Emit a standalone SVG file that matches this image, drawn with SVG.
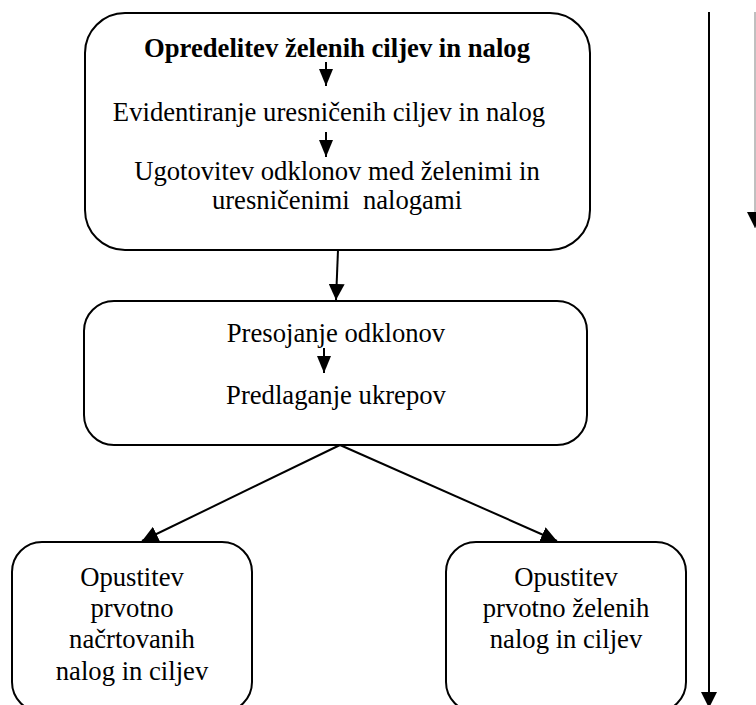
<svg xmlns="http://www.w3.org/2000/svg" width="756" height="705" viewBox="0 0 756 705">
<defs>
<style>
.box{fill:#fff;stroke:#000;stroke-width:2}
.t{font-family:"Liberation Serif","Times New Roman",serif;font-size:26.67px;fill:#000;text-anchor:middle}
.b{font-weight:bold}
.c{stroke:#000;stroke-width:2;fill:none}
.thin{stroke:#808080;stroke-width:1;fill:none}
</style>
<marker id="ah" markerUnits="userSpaceOnUse" markerWidth="16" markerHeight="16" refX="16" refY="8" orient="auto" viewBox="0 0 16 16">
<path d="M0,0 L16,8 L0,16 z" fill="#000"/>
</marker>
<marker id="as" markerUnits="userSpaceOnUse" markerWidth="17" markerHeight="14" refX="17" refY="7" orient="auto" viewBox="0 0 17 14">
<path d="M0,0 L17,7 L0,14 z" fill="#000"/>
</marker>
</defs>
<rect width="756" height="705" fill="#fff"/>
<g id="connectors">
<line class="c" x1="338" y1="250" x2="336" y2="300" marker-end="url(#ah)"/>
<line class="c" x1="340" y1="445" x2="142" y2="541" marker-end="url(#ah)"/>
<line class="c" x1="340" y1="445" x2="557" y2="541" marker-end="url(#ah)"/>
<line class="c" x1="709" y1="12" x2="709" y2="708" marker-end="url(#ah)"/>
<line class="thin" x1="755" y1="12" x2="755" y2="228" marker-end="url(#ah)"/>
</g>
<g id="node-top">
<rect class="box" x="85" y="13" width="505" height="237" rx="40" ry="40"/>
<text class="t b" x="337" y="57">Opredelitev želenih ciljev in nalog</text>
<line class="c" x1="326" y1="62" x2="326" y2="86" stroke-width="1.5" marker-end="url(#as)"/>
<text class="t" x="329" y="121">Evidentiranje uresničenih ciljev in nalog</text>
<line class="c" x1="326" y1="132" x2="326" y2="157" stroke-width="1.5" marker-end="url(#as)"/>
<text class="t" x="337" y="180">Ugotovitev odklonov med želenimi in</text>
<text class="t" x="337" y="209" xml:space="preserve">uresničenimi  nalogami</text>
</g>
<g id="node-middle">
<rect class="box" x="84" y="301" width="503" height="144" rx="30" ry="30"/>
<text class="t" x="336" y="342">Presojanje odklonov</text>
<line class="c" x1="324" y1="348" x2="324" y2="373" stroke-width="1.5" marker-end="url(#as)"/>
<text class="t" x="336" y="404">Predlaganje ukrepov</text>
</g>
<g id="node-left">
<rect class="box" x="12" y="542" width="240" height="170" rx="30" ry="30"/>
<text class="t" x="132" y="586">Opustitev</text>
<text class="t" x="132" y="617">prvotno</text>
<text class="t" x="132" y="648">načrtovanih</text>
<text class="t" x="132" y="680">nalog in ciljev</text>
</g>
<g id="node-right">
<rect class="box" x="446" y="542" width="240" height="170" rx="30" ry="30"/>
<text class="t" x="566" y="586">Opustitev</text>
<text class="t" x="566" y="617">prvotno želenih</text>
<text class="t" x="566" y="648">nalog in ciljev</text>
</g>
</svg>
